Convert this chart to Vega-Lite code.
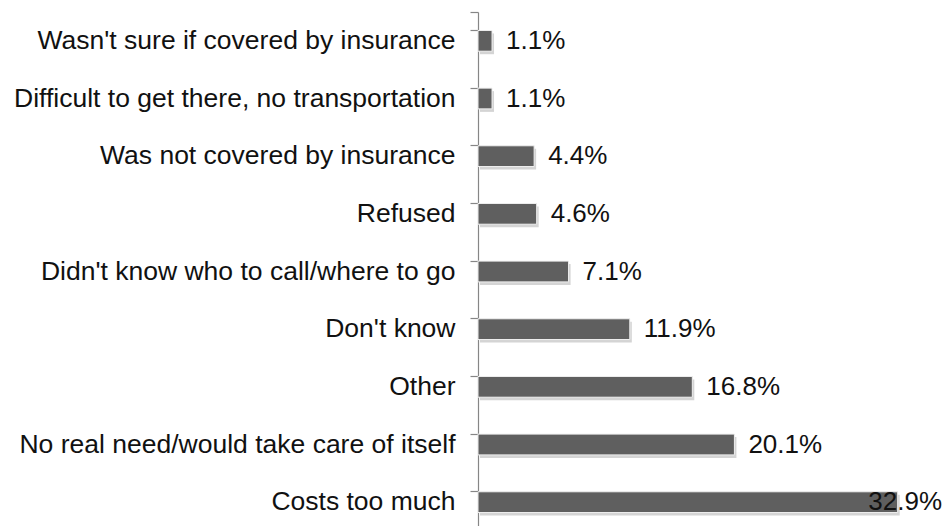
{
  "$schema": "https://vega.github.io/schema/vega-lite/v6.json",
  "autosize": "none",
  "width": 472,
  "height": 514,
  "padding": {"left": 478, "top": 12, "right": 0, "bottom": 0},
  "background": "white",
  "config": {"view": {"stroke": null}, "font": "Liberation Sans"},
  "data": {"values": [
    {"reason": "Wasn't sure if covered by insurance", "pct": 1.1},
    {"reason": "Difficult to get there, no transportation", "pct": 1.1},
    {"reason": "Was not covered by insurance", "pct": 4.4},
    {"reason": "Refused", "pct": 4.6},
    {"reason": "Didn't know who to call/where to go", "pct": 7.1},
    {"reason": "Don't know", "pct": 11.9},
    {"reason": "Other", "pct": 16.8},
    {"reason": "No real need/would take care of itself", "pct": 20.1},
    {"reason": "Costs too much", "pct": 32.9}
  ]},
  "encoding": {
    "y": {"field": "reason", "type": "nominal", "sort": null,
      "scale": {"paddingInner": 0.64, "paddingOuter": 0.32, "range": [0, 519]},
      "axis": {"title": null, "domain": true, "ticks": true, "bandPosition": 0, "tickExtra": true, "domainColor": "#868686", "domainWidth": 1.2, "tickColor": "#868686", "tickWidth": 1.2, "tickSize": 8, "labelFontSize": 26.5, "labelColor": "#111111", "labelPadding": 15, "labelLimit": 600, "labelFont": "Liberation Sans"}}
  },
  "layer": [
    {"mark": {"type": "bar", "color": "#d4d4d4", "xOffset": 2, "yOffset": 3},
     "encoding": {"x": {"field": "pct", "type": "quantitative", "scale": {"domain": [0, 37]}, "axis": null}}},
    {"mark": {"type": "bar", "color": "#5f5f5f", "stroke": "#f0f0f0", "strokeWidth": 1},
     "encoding": {"x": {"field": "pct", "type": "quantitative", "scale": {"domain": [0, 37]}, "axis": null}}},
    {"transform": [
       {"calculate": "min(datum.pct, 29.5)", "as": "lx"},
       {"calculate": "format(datum.pct, '.1f') + '%'", "as": "lbl"}],
     "mark": {"type": "text", "align": "left", "baseline": "middle", "dx": 14, "fontSize": 26, "color": "#111111", "font": "Liberation Sans"},
     "encoding": {"x": {"field": "lx", "type": "quantitative", "scale": {"domain": [0, 37]}, "axis": null}, "text": {"field": "lbl"}}}
  ]
}
